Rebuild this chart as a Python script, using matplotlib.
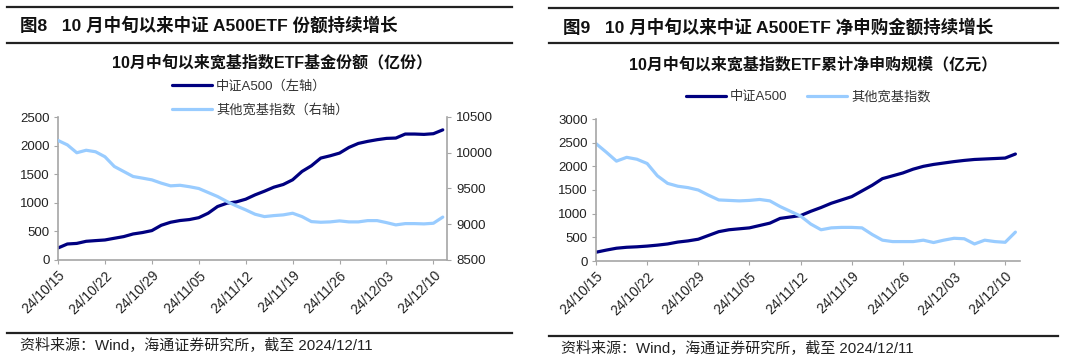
import matplotlib
matplotlib.use("Agg")
import matplotlib.pyplot as plt
from matplotlib.lines import Line2D

plt.rcParams['font.family'] = ['Liberation Sans', 'Noto Sans CJK SC']

# trading days from 2024/10/15 to 2024/12/11
dates = ['24/10/15', '24/10/16', '24/10/17', '24/10/18', '24/10/21', '24/10/22',
         '24/10/23', '24/10/24', '24/10/25', '24/10/28', '24/10/29', '24/10/30',
         '24/10/31', '24/11/01', '24/11/04', '24/11/05', '24/11/06', '24/11/07',
         '24/11/08', '24/11/11', '24/11/12', '24/11/13', '24/11/14', '24/11/15',
         '24/11/18', '24/11/19', '24/11/20', '24/11/21', '24/11/22', '24/11/25',
         '24/11/26', '24/11/27', '24/11/28', '24/11/29', '24/12/02', '24/12/03',
         '24/12/04', '24/12/05', '24/12/06', '24/12/09', '24/12/10', '24/12/11']

# Fig 8: fund shares (100m units)
a500_shares = [210, 280, 290, 327, 339, 350, 380, 409, 455, 480, 514, 607, 660, 690,
               707, 740, 818, 935, 993, 1016, 1063, 1139, 1203, 1273, 1320, 1402,
               1548, 1647, 1782, 1822, 1869, 1968, 2038, 2074, 2103, 2126, 2132,
               2202, 2202, 2196, 2208, 2275]
other_shares = [10172, 10110, 10000, 10035, 10014, 9944, 9808, 9738, 9668, 9645,
                9621, 9575, 9537, 9545, 9525, 9500, 9444, 9388, 9318, 9257, 9201,
                9140, 9107, 9121, 9131, 9154, 9107, 9037, 9028, 9033, 9047, 9033,
                9033, 9051, 9051, 9023, 8991, 9009, 9009, 9005, 9014, 9100]

# Fig 9: cumulative net subscription (100m yuan)
a500_net = [185, 230, 270, 290, 300, 315, 335, 360, 400, 425, 460, 540, 620, 660,
            680, 700, 750, 800, 900, 930, 960, 1050, 1130, 1220, 1290, 1360, 1480,
            1600, 1740, 1800, 1860, 1940, 2000, 2040, 2070, 2100, 2125, 2145, 2155,
            2165, 2175, 2260]
other_net = [2480, 2300, 2110, 2190, 2150, 2060, 1800, 1640, 1580, 1550, 1500, 1390,
             1290, 1280, 1270, 1280, 1300, 1270, 1150, 1050, 950, 780, 660, 700, 710,
             710, 700, 560, 440, 410, 410, 410, 440, 390, 440, 480, 470, 360, 440,
             410, 395, 610]

DARK = '#000080'
LIGHT = '#99CCFF'
GRAY = '#A6A6A6'
W, H = 1080, 363

fig = plt.figure(figsize=(W / 100, H / 100), dpi=100)


def px_axes(x0, y_top, x1, y_bot):
    return fig.add_axes([x0 / W, 1 - y_bot / H, (x1 - x0) / W, (y_bot - y_top) / H])


def hline(x0, x1, y, lw=1.6):
    fig.add_artist(Line2D([x0 / W, x1 / W], [1 - y / H, 1 - y / H],
                          color='#222222', linewidth=lw))


def style_axis(ax):
    x = list(range(len(dates)))
    ax.set_xlim(0, 41.45)
    ax.set_xticks(x[::5])
    ax.set_xticklabels(dates[::5], rotation=45, ha='right', rotation_mode='anchor')
    ax.tick_params(axis='both', length=3, color=GRAY, labelsize=9.5, pad=3,
                   labelcolor='#222222')
    ax.tick_params(axis='x', labelsize=10)
    for side in ['top', 'right']:
        ax.spines[side].set_visible(False)
    for side in ['left', 'bottom']:
        ax.spines[side].set_color(GRAY)
        ax.spines[side].set_linewidth(1.2)


x = list(range(len(dates)))

# ---------- left panel ----------
hline(7, 512, 7)
hline(7, 512, 43)
hline(7, 512, 333)
fig.text(20 / W, 1 - 25 / H, '图8   10 月中旬以来中证 A500ETF 份额持续增长',
         fontsize=12.6, weight='bold', va='center', ha='left', color='#111111')
fig.text(272 / W, 1 - 63 / H, '10月中旬以来宽基指数ETF基金份额（亿份）',
         fontsize=11.5, weight='bold', va='center', ha='center', color='#111111')
fig.text(20 / W, 1 - 346 / H, '资料来源：Wind，海通证券研究所，截至 2024/12/11',
         fontsize=10.8, va='center', ha='left', color='#222222')

ax1 = px_axes(58, 117, 447, 260)
l1, = ax1.plot(x, a500_shares, color=DARK, linewidth=2.3, solid_capstyle='round')
ax1.set_ylim(0, 2500)
ax1.set_yticks(range(0, 2501, 500))
style_axis(ax1)
ax1b = ax1.twinx()
l2, = ax1b.plot(x, other_shares, color=LIGHT, linewidth=2.3, solid_capstyle='round')
ax1b.set_ylim(8500, 10500)
ax1b.set_yticks(range(8500, 10501, 500))
ax1b.tick_params(axis='y', length=3, color=GRAY, labelsize=9.5, labelcolor='#222222')
for side in ['top', 'left', 'bottom']:
    ax1b.spines[side].set_visible(False)
ax1b.spines['right'].set_color(GRAY)
ax1b.spines['right'].set_linewidth(1.2)

fig.legend([l1, l2], ['中证A500（左轴）', '其他宽基指数（右轴）'],
           loc='upper left', bbox_to_anchor=(172 / W, 1 - 80 / H),
           frameon=False, fontsize=9.5, handlelength=3.0, handletextpad=0.35,
           labelspacing=0.85, borderpad=0, borderaxespad=0, labelcolor='#333333')

# ---------- right panel ----------
hline(549, 1058, 8)
hline(549, 1058, 43)
hline(549, 1058, 336)
fig.text(563 / W, 1 - 27 / H, '图9   10 月中旬以来中证 A500ETF 净申购金额持续增长',
         fontsize=12.6, weight='bold', va='center', ha='left', color='#111111')
fig.text(813 / W, 1 - 65 / H, '10月中旬以来宽基指数ETF累计净申购规模（亿元）',
         fontsize=11.5, weight='bold', va='center', ha='center', color='#111111')
fig.text(561 / W, 1 - 349 / H, '资料来源：Wind，海通证券研究所，截至 2024/12/11',
         fontsize=10.8, va='center', ha='left', color='#222222')

ax2 = px_axes(596, 119, 1020, 261)
r1, = ax2.plot(x, a500_net, color=DARK, linewidth=2.3, solid_capstyle='round')
r2, = ax2.plot(x, other_net, color=LIGHT, linewidth=2.3, solid_capstyle='round')
ax2.set_ylim(0, 3000)
ax2.set_yticks(range(0, 3001, 500))
style_axis(ax2)

fig.legend([r1, r2], ['中证A500', '其他宽基指数'], loc='center left',
           bbox_to_anchor=(686 / W, 1 - 97 / H), ncol=2, frameon=False, fontsize=9.5,
           handlelength=3.0, handletextpad=0.35, columnspacing=1.5, borderpad=0,
           borderaxespad=0, labelcolor='#333333')

fig.savefig('out.png', dpi=100, facecolor='white')
